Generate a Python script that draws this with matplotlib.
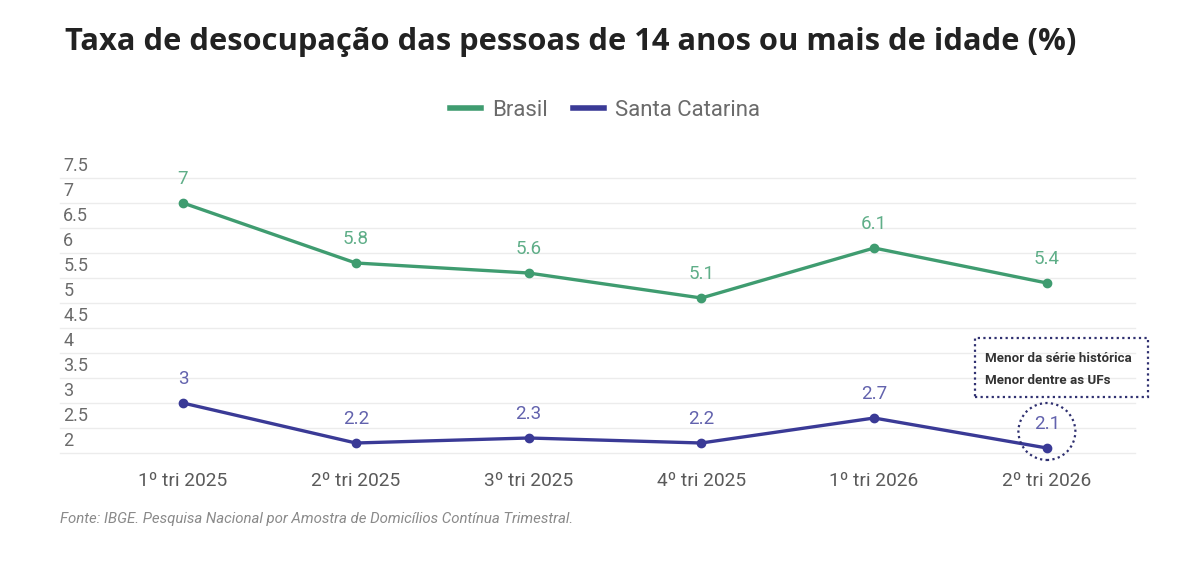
import matplotlib.pyplot as plt
from matplotlib.patches import Rectangle, Ellipse
from matplotlib.lines import Line2D

quarters = ["1º tri 2025", "2º tri 2025", "3º tri 2025", "4º tri 2025", "1º tri 2026", "2º tri 2026"]
brasil = [7.0, 5.8, 5.6, 5.1, 6.1, 5.4]
santa_catarina = [3.0, 2.2, 2.3, 2.2, 2.7, 2.1]
y_ticks = [7.5, 7, 6.5, 6, 5.5, 5, 4.5, 4, 3.5, 3, 2.5, 2]

GREEN = "#3f9c70"
BLUE = "#3a3a96"
GREEN_TXT = "#5fae88"
BLUE_TXT = "#6262ad"

W, H = 1200, 574
fig = plt.figure(figsize=(12, 5.74), dpi=100)
fig.patch.set_facecolor("white")

def fx(px):
    return px / W

def fy(py):
    return 1 - py / H

ax = fig.add_axes([fx(60), fy(453), fx(1135) - fx(60), fy(178) - fy(453)])
ax.set_xlim(-0.712, 5.51)
ax.set_ylim(2, 7.5)
for s in ax.spines.values():
    s.set_visible(False)
ax.set_xticks([])
ax.set_yticks([])

# grid lines + labels sitting just above them
for v in y_ticks:
    ax.axhline(v, color="#ececec", lw=1, zorder=0, clip_on=False)
    ax.text(0.003, v + 0.06, f"{v:g}", transform=ax.get_yaxis_transform(),
            ha="left", va="bottom", fontsize=13, color="#6b6b6b", family="Roboto")

x = list(range(len(quarters)))
ax.plot(x, brasil, color=GREEN, lw=2.4, marker="o", ms=6, zorder=3)
ax.plot(x, santa_catarina, color=BLUE, lw=2.4, marker="o", ms=6, zorder=3, clip_on=False)

for i, v in enumerate(brasil):
    ax.text(i, v + 0.3, f"{v:g}", ha="center", va="bottom", fontsize=13.5,
            color=GREEN_TXT, family="Roboto")
for i, v in enumerate(santa_catarina):
    ax.text(i, v + 0.3, f"{v:g}", ha="center", va="bottom", fontsize=13.5,
            color=BLUE_TXT, family="Roboto")

for i, q in enumerate(quarters):
    ax.text(i, -0.1, q, transform=ax.get_xaxis_transform(), ha="center", va="center",
            fontsize=13.8, color="#5a5a5a", family="Roboto")

# dotted circle around the last point
ax.add_patch(Ellipse((5, 2.43), 0.33, 1.14, fill=False, ec="#2f3070", lw=1.6,
                     ls=(0, (1, 1.5)), clip_on=False, zorder=4))

# dotted note box
fig.patches.append(Rectangle((fx(975), fy(397)), fx(1148) - fx(975), fy(338) - fy(397),
                             transform=fig.transFigure, fill=False, ec="#2f3070",
                             lw=1.6, ls=(0, (1, 1.5))))
fig.text(fx(985), fy(358), "Menor da série histórica", fontsize=9.6, fontweight="bold",
         color="#333333", va="center", family="Roboto")
fig.text(fx(985), fy(380), "Menor dentre as UFs", fontsize=9.6, fontweight="bold",
         color="#333333", va="center", family="Roboto")

fig.text(fx(65), fy(42), "Taxa de desocupação das pessoas de 14 anos ou mais de idade (%)",
         fontsize=22.2, fontweight="bold", color="#222222", va="center", family="Open Sans")

handles = [Line2D([], [], color=GREEN, lw=4), Line2D([], [], color=BLUE, lw=4)]
leg = fig.legend(handles, ["Brasil", "Santa Catarina"], loc="center",
                 bbox_to_anchor=(fx(605), fy(110)), ncol=2, frameon=False,
                 handlelength=1.4, columnspacing=1.1, handletextpad=0.5,
                 prop={"family": "Roboto", "size": 16})
for t in leg.get_texts():
    t.set_color("#6b6b6b")

fig.text(fx(60), fy(519), "Fonte: IBGE. Pesquisa Nacional por Amostra de Domicílios Contínua Trimestral.",
         fontsize=10.8, style="italic", color="#8a8a8a", va="center", family="Roboto")

fig.savefig("out.png", dpi=100, facecolor="white")
